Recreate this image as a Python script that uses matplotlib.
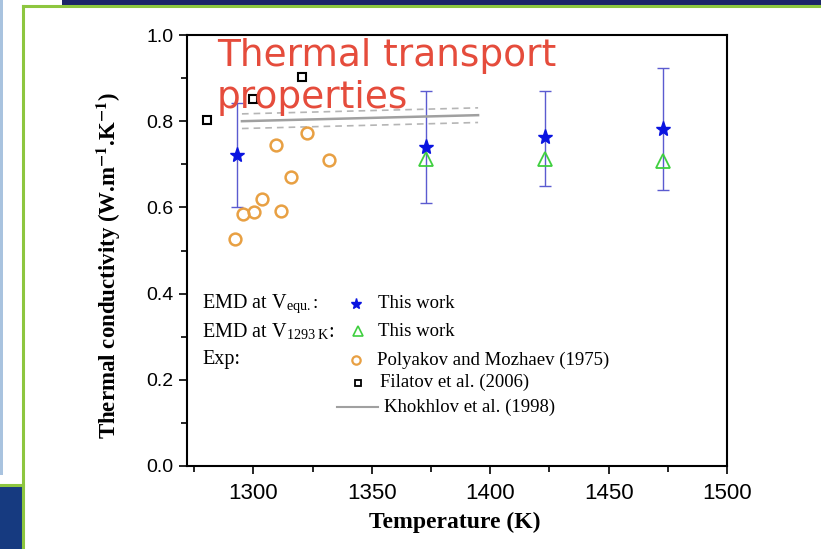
import numpy as np
import matplotlib
matplotlib.use('Agg')
import matplotlib.pyplot as plt
from matplotlib.patches import Rectangle
from matplotlib.lines import Line2D

plt.rcParams['mathtext.fontset'] = 'stix'

# EMD at V_equ. (this work), with error bars
emd_equ_T = [1293, 1373, 1423, 1473]
emd_equ_k = [0.722, 0.740, 0.763, 0.782]
emd_equ_lo = [0.601, 0.610, 0.650, 0.640]
emd_equ_hi = [0.842, 0.870, 0.870, 0.923]

# EMD at V_1293K (this work)
emd_1293_T = [1373, 1423, 1473]
emd_1293_k = [0.712, 0.712, 0.707]

# Polyakov and Mozhaev (1975)
poly_T = [1292.3, 1295.6, 1300.3, 1303.7, 1309.6, 1311.7, 1315.9, 1322.7, 1332.0]
poly_k = [0.527, 0.585, 0.589, 0.619, 0.745, 0.592, 0.671, 0.773, 0.710]

# Filatov et al. (2006)
fil_T = [1280.4, 1299.9, 1320.6]
fil_k = [0.803, 0.851, 0.903]

# Khokhlov et al. (1998)
kho_T = [1295.2, 1394.9]
kho_k = [0.800, 0.814]
kho_band = 0.017

W, H = 821, 549
fig = plt.figure(figsize=(W / 100, H / 100), dpi=100)
fig.patch.set_facecolor('white')

def fx(x):
    return x / W

def fy(y):
    return 1 - y / H

# slide decoration
fig.add_artist(Rectangle((fx(62), fy(5)), fx(W - 62), 5 / H, transform=fig.transFigure,
                         color='#1b2468', lw=0))
fig.add_artist(Rectangle((0, 0), fx(22), fy(487), transform=fig.transFigure,
                         color='#163a80', lw=0))
fig.add_artist(Rectangle((0, fy(475)), fx(2.5), 475 / H, transform=fig.transFigure,
                         color='#a9c3df', lw=0))
fig.add_artist(Line2D([fx(23), fx(23)], [0, fy(6)], transform=fig.transFigure,
                      color='#8dc63f', lw=2.2))
fig.add_artist(Line2D([fx(23), 1], [fy(6), fy(6)], transform=fig.transFigure,
                      color='#8dc63f', lw=2.2))
fig.add_artist(Line2D([0, fx(23)], [fy(485), fy(485)], transform=fig.transFigure,
                      color='#8dc63f', lw=2.2))

ax = fig.add_axes([fx(187), fy(466), 540 / W, 431 / H])

ax.errorbar(emd_equ_T, emd_equ_k,
            yerr=[np.array(emd_equ_k) - np.array(emd_equ_lo),
                  np.array(emd_equ_hi) - np.array(emd_equ_k)],
            fmt='none', ecolor='#5b5bd0', elinewidth=1.0, capsize=4, capthick=1.0, zorder=2)
ax.plot(emd_equ_T, emd_equ_k, ls='none', marker='*', ms=11, color='#0a14e0', zorder=4)
ax.plot(emd_1293_T, emd_1293_k, ls='none', marker='^', ms=10, mfc='none',
        mec='#3fcf3f', mew=1.3, zorder=3)
ax.plot(poly_T, poly_k, ls='none', marker='o', ms=8.5, mfc='none', mec='#e8a043', mew=1.8, zorder=3)
ax.plot(fil_T, fil_k, ls='none', marker='s', ms=6, mfc='none', mec='black', mew=1.5, zorder=3)
ax.plot(kho_T, kho_k, color='#a0a0a0', lw=1.8, zorder=2)
ax.plot(kho_T, np.array(kho_k) + kho_band, color='#b5b5b5', lw=1.2, ls=(0, (4, 3)), zorder=2)
ax.plot(kho_T, np.array(kho_k) - kho_band, color='#b5b5b5', lw=1.2, ls=(0, (4, 3)), zorder=2)

ax.set_xlim(1272, 1500)
ax.set_ylim(0, 1.0)
ax.set_xticks([1300, 1350, 1400, 1450, 1500])
ax.set_xticks([1275, 1325, 1375, 1425, 1475], minor=True)
ax.set_yticks([0.0, 0.2, 0.4, 0.6, 0.8, 1.0])
ax.set_yticks([0.1, 0.3, 0.5, 0.7, 0.9], minor=True)
ax.set_yticklabels(['0.0', '0.2', '0.4', '0.6', '0.8', '1.0'])
ax.tick_params(which='both', direction='out', top=False, right=False, width=1.2)
ax.tick_params(which='major', length=6)
ax.tick_params(which='minor', length=4)
ax.tick_params(axis='x', which='major', pad=6)
for lab in ax.get_xticklabels():
    lab.set_fontfamily('Liberation Sans')
    lab.set_fontsize(16)
for lab in ax.get_yticklabels():
    lab.set_fontfamily('Liberation Sans')
    lab.set_fontsize(14)
for sp in ax.spines.values():
    sp.set_linewidth(1.5)

ax.set_xlabel('Temperature (K)', fontfamily='Liberation Serif', fontweight='bold', fontsize=17)
ax.set_ylabel(r'Thermal conductivity (W.m$^{\mathbf{-1}}$.K$^{\mathbf{-1}}$)',
              fontfamily='Liberation Serif', fontweight='bold', fontsize=16.5)
ax.xaxis.set_label_coords(0.496, -0.107)
ax.yaxis.set_label_coords(-0.118, 0.466)

# hand-made legend
lf = dict(fontfamily='Liberation Serif', fontsize=13.5, va='center', transform=ax.transAxes)
lf_big = dict(lf, fontsize=14.5)
ax.text(0.028, 0.376, r'EMD at V$_{\mathregular{equ.}}$', **lf_big)
ax.text(0.233, 0.376, ':', **lf)
ax.text(0.028, 0.311, r'EMD at V$_{\mathregular{1293\ K}}$:', **lf_big)
ax.text(0.028, 0.246, 'Exp:', **lf_big)
ax.plot([0.313], [0.376], transform=ax.transAxes, marker='*', ms=8, color='#0a14e0', ls='none')
ax.plot([0.317], [0.313], transform=ax.transAxes, marker='^', ms=7.5, mfc='none',
        mec='#3fcf3f', mew=1.2, ls='none')
ax.plot([0.313], [0.246], transform=ax.transAxes, marker='o', ms=6, mfc='none',
        mec='#e8a043', mew=1.6, ls='none')
ax.plot([0.317], [0.193], transform=ax.transAxes, marker='s', ms=5, mfc='none',
        mec='black', mew=1.3, ls='none')
ax.plot([0.278, 0.354], [0.137, 0.137], transform=ax.transAxes, color='#a0a0a0', lw=1.5)
ax.text(0.354, 0.376, 'This work', **lf)
ax.text(0.354, 0.311, 'This work', **lf)
ax.text(0.352, 0.246, 'Polyakov and Mozhaev (1975)', **lf)
ax.text(0.357, 0.193, 'Filatov et al. (2006)', **lf)
ax.text(0.365, 0.137, 'Khokhlov et al. (1998)', **lf)

# slide title over the chart
fig.text(fx(217), fy(38), 'Thermal transport\nproperties', fontfamily='DejaVu Sans',
         fontsize=27, color='#e54c3c', va='top', ha='left', zorder=10)

fig.savefig('out.png', dpi=100)
